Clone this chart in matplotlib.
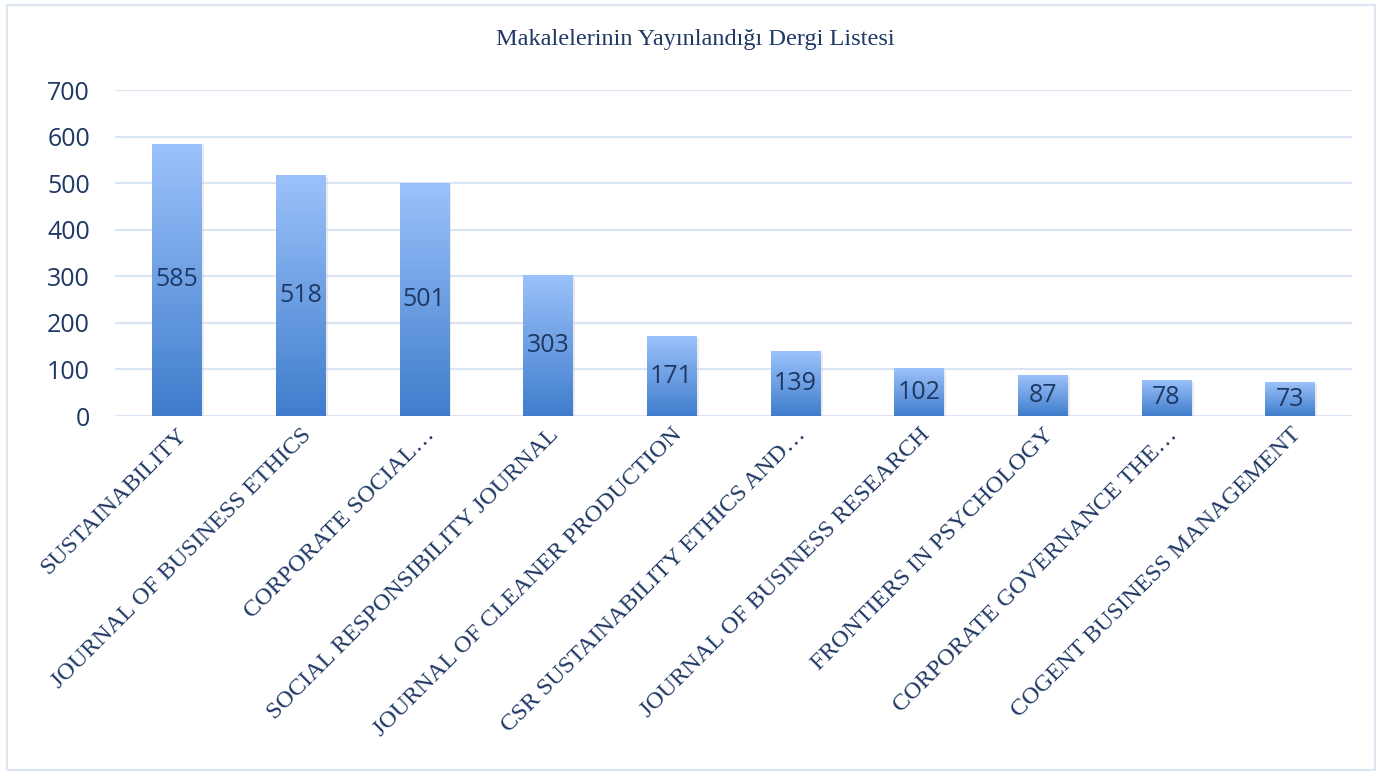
import numpy as np
import matplotlib.pyplot as plt
from matplotlib.patches import Rectangle
from matplotlib.colors import LinearSegmentedColormap

journals = ['SUSTAINABILITY', 'JOURNAL OF BUSINESS ETHICS', 'CORPORATE SOCIAL…',
            'SOCIAL RESPONSIBILITY JOURNAL', 'JOURNAL OF CLEANER PRODUCTION',
            'CSR SUSTAINABILITY ETHICS AND…', 'JOURNAL OF BUSINESS RESEARCH',
            'FRONTIERS IN PSYCHOLOGY', 'CORPORATE GOVERNANCE THE…',
            'COGENT BUSINESS MANAGEMENT']
counts = [585, 518, 501, 303, 171, 139, 102, 87, 78, 73]
yticks = [0, 100, 200, 300, 400, 500, 600, 700]

navy = '#1f3864'
grid = '#d9e5f5'

fig = plt.figure(figsize=(13.82, 7.75), dpi=100)
ax = fig.add_axes([115 / 1382, 1 - 416 / 775, 1237 / 1382, 326 / 775])

# outer frame
fig.patches.append(Rectangle((7 / 1382, 5 / 775), 1368 / 1382, 765 / 775,
                             transform=fig.transFigure, fill=False,
                             ec='#dce6f2', lw=1.5))

x = np.arange(len(counts))
bars = ax.bar(x, counts, width=0.4, color='none', zorder=3)

# vertical gradient, light at top -> darker at bottom
grad = np.linspace(0, 1, 256).reshape(-1, 1)
cmap = LinearSegmentedColormap.from_list('g', ['#3f7dcc', '#9cc2fb'])
for b in bars:
    x0, w, h = b.get_x(), b.get_width(), b.get_height()
    im = ax.imshow(grad, extent=[x0, x0 + w, 0, h], origin='lower', cmap=cmap,
                   aspect='auto', zorder=3)
    im.set_clip_path(b)
    ax.add_patch(Rectangle((x0 + 0.02, -4), w, h, color='#c8c8c8', alpha=0.35,
                           zorder=2, lw=0))

for xi, v in zip(x, counts):
    ax.text(xi, v / 2, str(v), ha='center', va='center', fontsize=18,
            color=navy, family='Open Sans', zorder=4)

ax.set_xlim(-0.5, len(counts) - 0.5)
ax.set_ylim(0, 700)
ax.set_yticks(yticks)
ax.set_yticklabels([str(t) for t in yticks], family='Open Sans', fontsize=18,
                   color=navy)
ax.yaxis.grid(True, color=grid, lw=1.5, zorder=0)
ax.set_axisbelow(True)
ax.tick_params(axis='y', length=0, pad=18)
ax.tick_params(axis='x', length=0, pad=6)
for s in ax.spines.values():
    s.set_visible(False)

ax.set_xticks(x)
ax.set_xticklabels(journals, rotation=45, ha='right', rotation_mode='anchor',
                   family='Liberation Serif', fontsize=17.5, color=navy)

fig.text(695 / 1382, 1 - 40 / 775, 'Makalelerinin Yayınlandığı Dergi Listesi',
         ha='center', va='center', family='Liberation Serif', fontsize=17.5,
         color=navy)

fig.savefig('out.png', dpi=100)
